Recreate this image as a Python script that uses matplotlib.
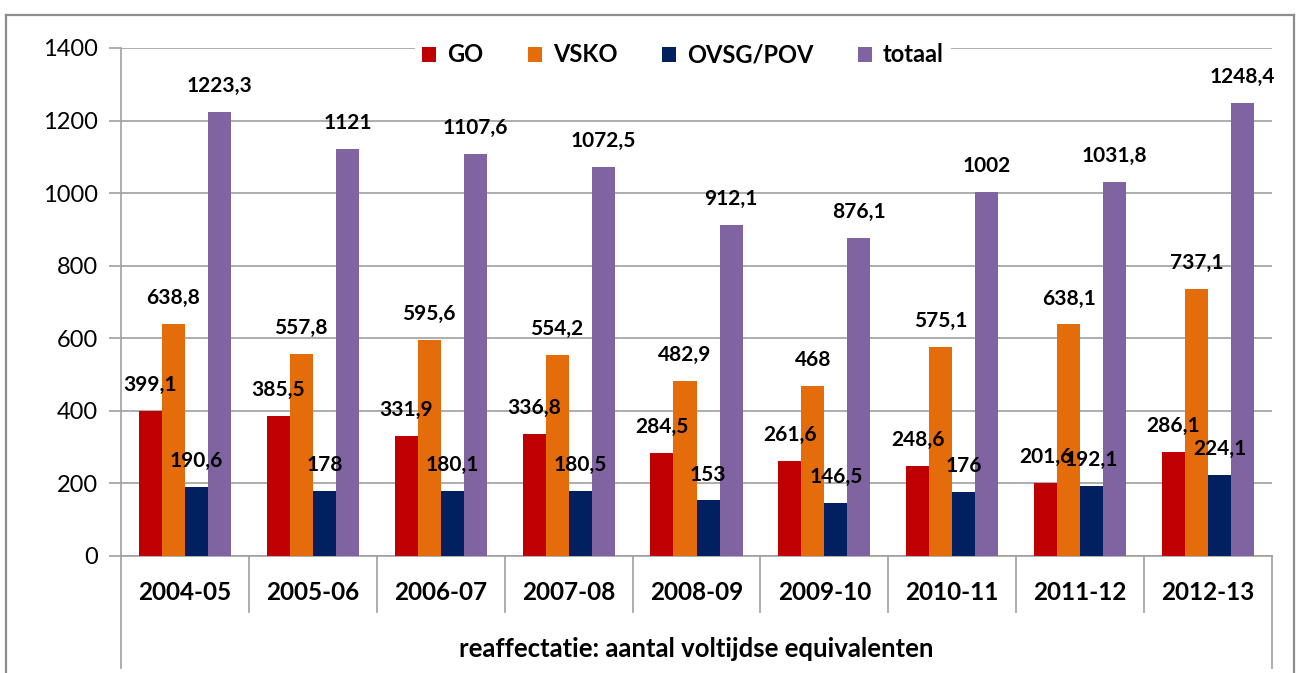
import matplotlib
matplotlib.use("Agg")
import matplotlib.pyplot as plt
from matplotlib.lines import Line2D
from matplotlib.patches import Patch
import numpy as np

plt.rcParams['font.family'] = ['Lato', 'DejaVu Sans']

categories = ["2004-05", "2005-06", "2006-07", "2007-08", "2008-09",
              "2009-10", "2010-11", "2011-12", "2012-13"]
series_names = ["GO", "VSKO", "OVSG/POV", "totaal"]
go = [399.1, 385.5, 331.9, 336.8, 284.5, 261.6, 248.6, 201.6, 286.1]
vsko = [638.8, 557.8, 595.6, 554.2, 482.9, 468, 575.1, 638.1, 737.1]
ovsg = [190.6, 178, 180.1, 180.5, 153, 146.5, 176, 192.1, 224.1]
totaal = [1223.3, 1121, 1107.6, 1072.5, 912.1, 876.1, 1002, 1031.8, 1248.4]
y_ticks = [0, 200, 400, 600, 800, 1000, 1200, 1400]
axis_title = "reaffectatie: aantal voltijdse equivalenten"

colors = ["#C00000", "#E46C0A", "#002060", "#8064A2"]
W, H = 1298, 673
fig = plt.figure(figsize=(W / 100, H / 100), dpi=100)

# outer chart border
bc = "#8c8c8c"
fig.add_artist(Line2D([6 / W, 6 / W], [0, 1 - 15 / H], color=bc, lw=1.6, transform=fig.transFigure))
fig.add_artist(Line2D([6 / W, 1294 / W], [1 - 15 / H, 1 - 15 / H], color=bc, lw=1.6, transform=fig.transFigure))
fig.add_artist(Line2D([1294 / W, 1294 / W], [0, 1 - 15 / H], color=bc, lw=1.6, transform=fig.transFigure))

ax_l, ax_r, ax_b, ax_t = 121, 1272, 556, 48
ax = fig.add_axes([ax_l / W, 1 - ax_b / H, (ax_r - ax_l) / W, (ax_b - ax_t) / H])
ax_h = ax_b - ax_t

x = np.arange(len(categories))
bw = 0.18
all_series = [go, vsko, ovsg, totaal]
for i, (vals, c) in enumerate(zip(all_series, colors)):
    pos = x + (i - 1.5) * bw
    ax.bar(pos, vals, width=bw, color=c, zorder=3, label=series_names[i])
    for px, v in zip(pos, vals):
        lab = ('{:g}'.format(v)).replace('.', ',')
        ax.annotate(lab, (px, v), xytext=(0, 18.7), textcoords='offset points',
                    ha='center', va='center', fontsize=15, fontweight='bold',
                    color='black', zorder=5)

ax.set_xlim(-0.5, len(categories) - 0.5)
ax.set_ylim(0, 1400)
ax.set_yticks(y_ticks)
ax.set_yticklabels([str(t) for t in y_ticks], fontsize=17)
ax.yaxis.grid(True, color='#a0a0a0', lw=1.2, zorder=0)
ax.set_axisbelow(True)
ax.set_xticks([])
for s in ['top', 'right']:
    ax.spines[s].set_visible(False)
for s in ['left', 'bottom']:
    ax.spines[s].set_color('#a0a0a0')
    ax.spines[s].set_linewidth(1.2)
ax.tick_params(axis='y', direction='out', length=8.5, width=1.2, color='#a0a0a0', pad=8)

tr = ax.get_xaxis_transform()
sep_bottom = -(612 - ax_b) / ax_h
outer_bottom = -(668 - ax_b) / ax_h
for b in np.arange(0.5, len(categories) - 1, 1.0):
    ax.add_line(Line2D([b, b], [0, sep_bottom], transform=tr, color='#a0a0a0', lw=1.2, clip_on=False))
for b in [-0.5, len(categories) - 0.5]:
    ax.add_line(Line2D([b, b], [0, outer_bottom], transform=tr, color='#a0a0a0', lw=1.2, clip_on=False))

for xi, c in zip(x, categories):
    ax.text(xi, -(593 - ax_b) / ax_h, c, transform=tr, ha='center', va='center',
            fontsize=17.5, fontweight='bold')
ax.text((len(categories) - 1) / 2, -(649 - ax_b) / ax_h, axis_title, transform=tr,
        ha='center', va='center', fontsize=18.5, fontweight='bold')

handles = [Patch(facecolor=c, edgecolor='none') for c in colors]
leg = ax.legend(handles, series_names, loc='center', ncol=4,
                bbox_to_anchor=((683 - ax_l) / (ax_r - ax_l), (ax_b - 55) / ax_h),
                frameon=True, facecolor='white', edgecolor='none', framealpha=1,
                prop={'weight': 'bold', 'size': 17}, handlelength=0.6, handleheight=0.6,
                handletextpad=0.45, columnspacing=1.9, borderpad=0.3, borderaxespad=0)
leg.set_zorder(6)

fig.savefig("out.png", dpi=100)
